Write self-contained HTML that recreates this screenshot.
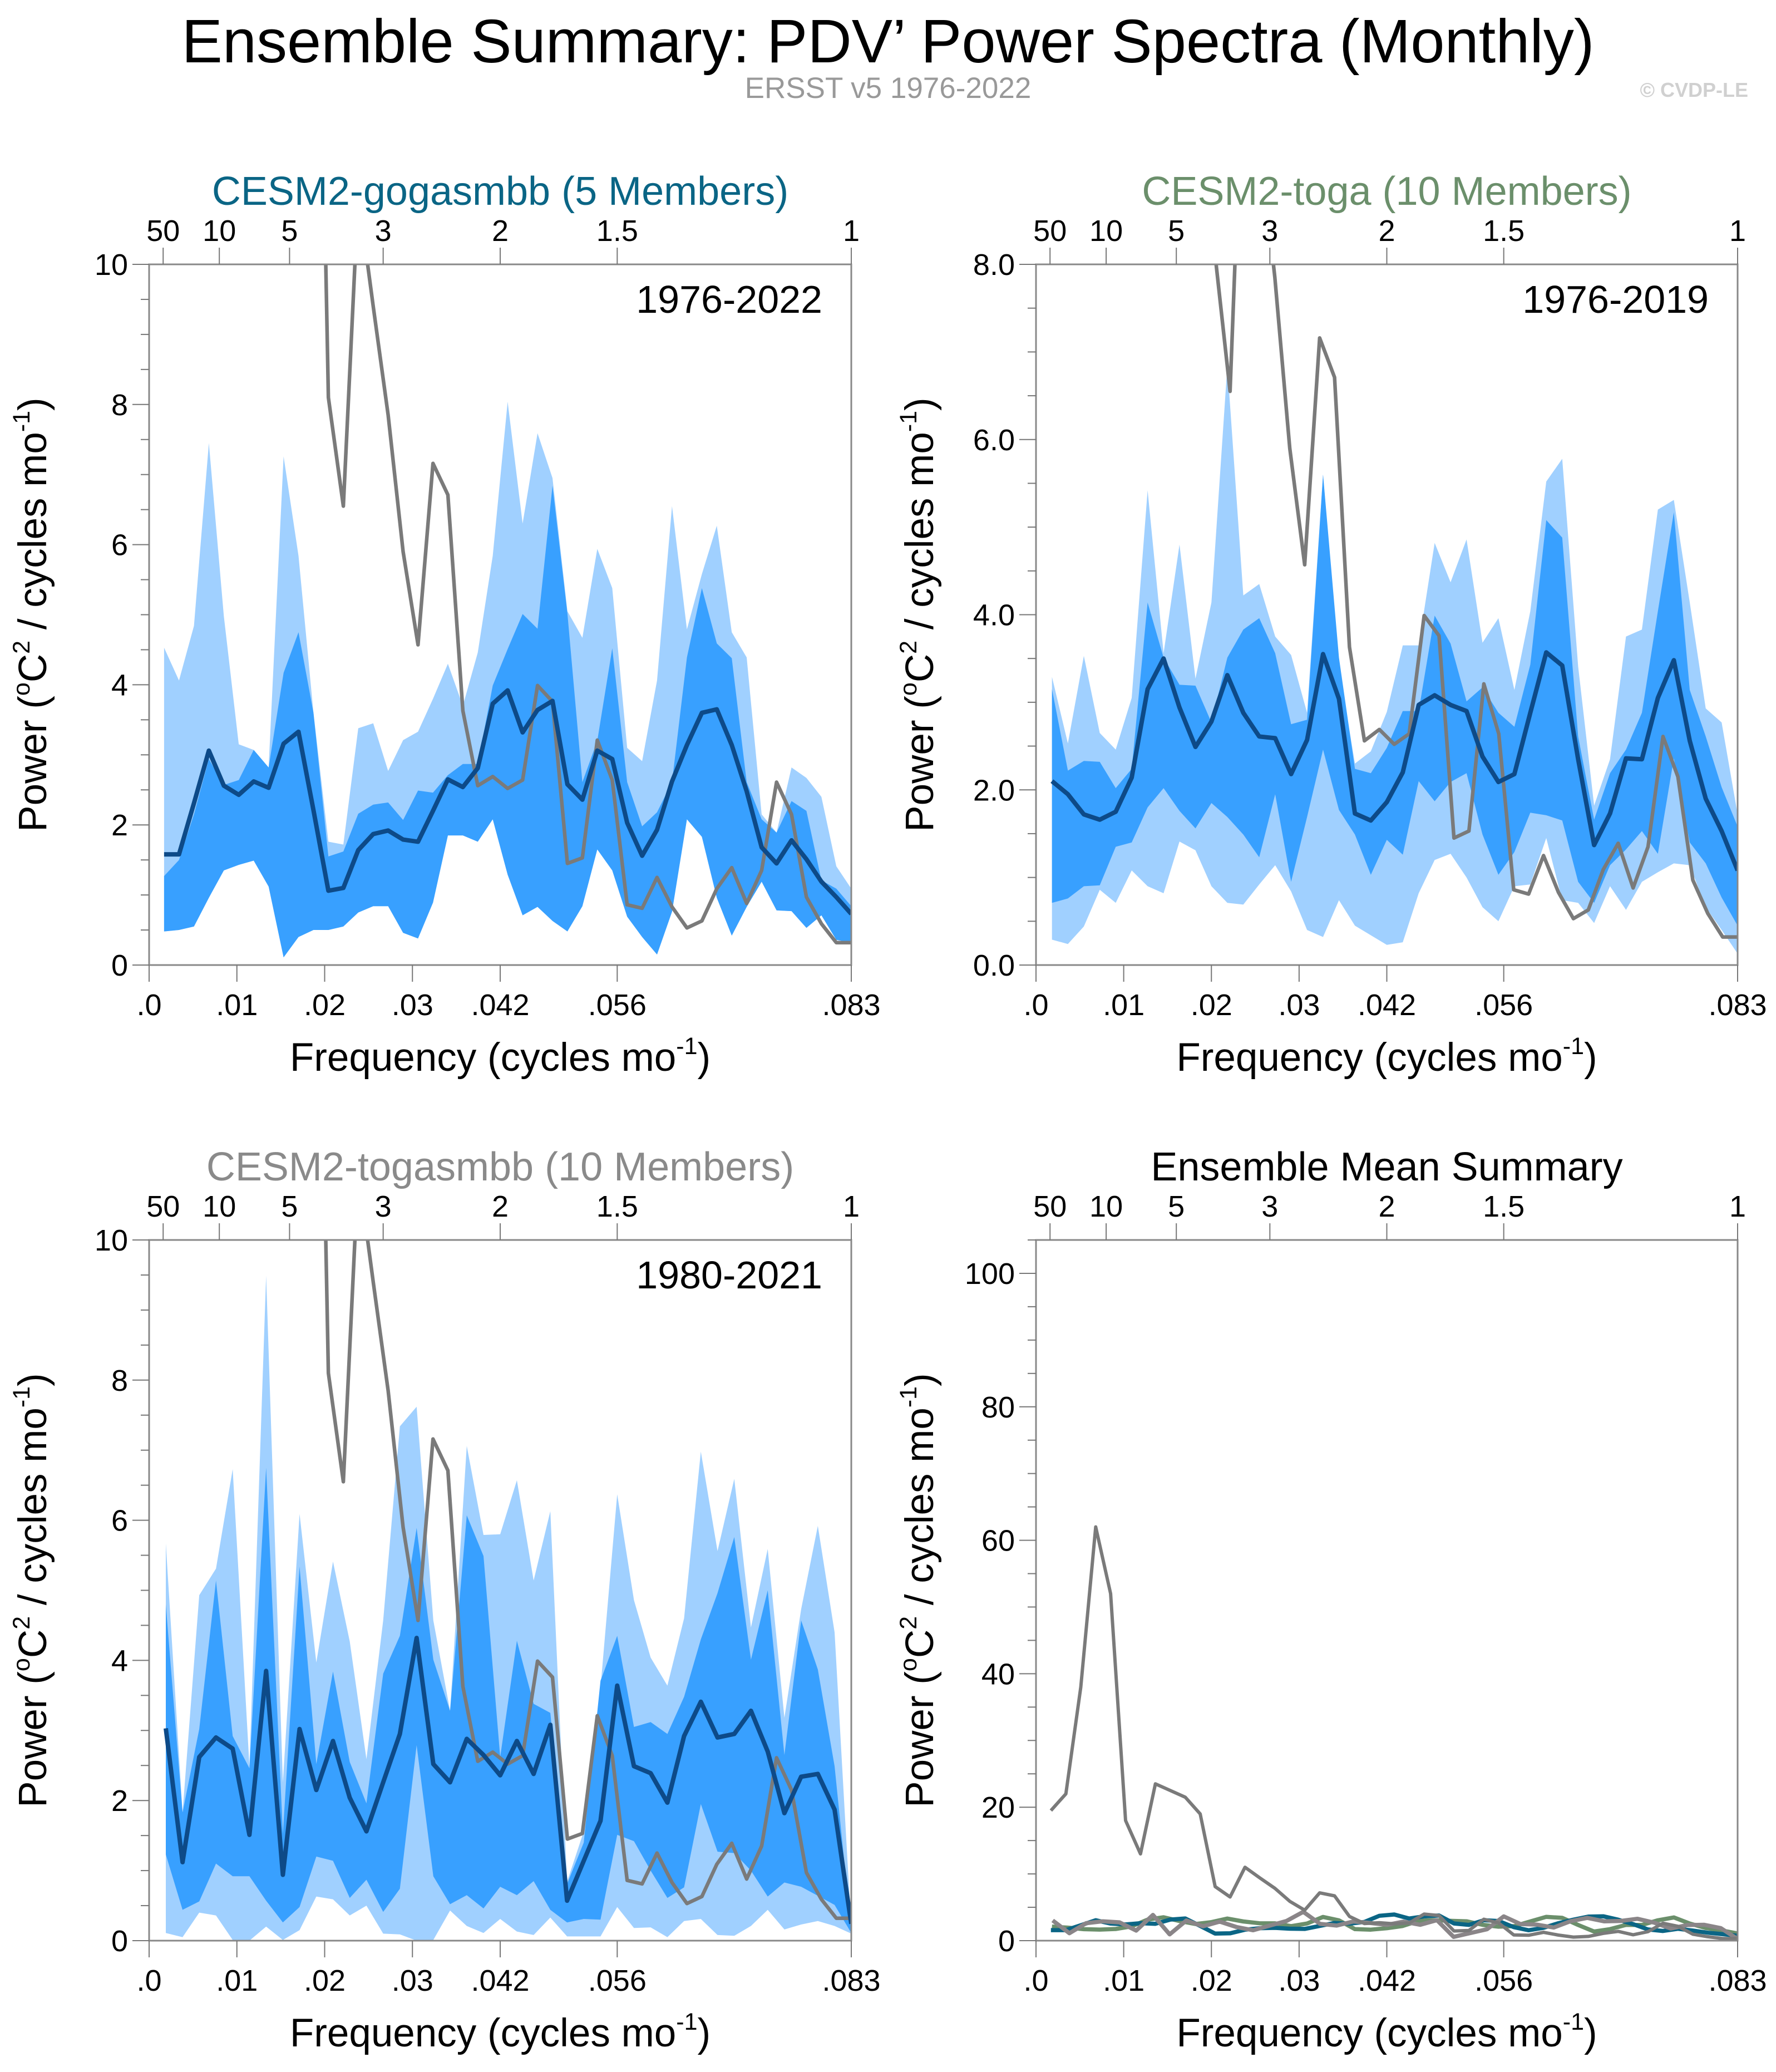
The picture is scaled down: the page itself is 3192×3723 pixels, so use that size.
<!DOCTYPE html>
<html><head><meta charset="utf-8">
<style>
html,body{margin:0;padding:0;background:#fff;}
svg{display:block;font-family:"Liberation Sans",Arial,sans-serif;}
</style></head>
<body>
<svg id="fig" width="3192" height="3723" viewBox="0 0 3192 3723" xmlns="http://www.w3.org/2000/svg">
<text x="1596" y="112" font-size="110" text-anchor="middle" fill="#000">Ensemble Summary: PDV’ Power Spectra (Monthly)</text>
<text x="1596" y="176" font-size="53" text-anchor="middle" fill="#999">ERSST v5 1976-2022</text>
<text x="3142" y="174" font-size="36" font-weight="bold" text-anchor="end" fill="#d0d0d0">© CVDP-LE</text>
</svg>
<script>
// Observed (ERSST) spectrum, freq k/564
const obsVals=[19.5,22,38,62,52,18,13,23.5,22.5,21.5,19,8.1,6.55,11,9.4,7.85,5.9,4.57,7.16,6.71,3.63,2.56,2.69,2.52,2.64,3.99,3.76,1.45,1.53,3.21,2.64,0.86,0.81,1.25,0.83,0.53,0.63,1.09,1.39,0.88,1.35,2.61,2.15,0.97,0.59,0.32,0.32];
// Panel 1: CESM2-gogasmbb (47 yrs)
const p1Mean=[1.58,1.58,2.31,3.06,2.56,2.43,2.62,2.53,3.16,3.33,2.21,1.06,1.10,1.64,1.87,1.92,1.79,1.76,2.20,2.65,2.54,2.81,3.73,3.92,3.32,3.64,3.77,2.58,2.36,3.06,2.94,2.03,1.56,1.93,2.62,3.14,3.60,3.65,3.14,2.48,1.68,1.45,1.78,1.51,1.19,0.97,0.73];
const p1LightHi=[4.53,4.06,4.84,7.45,4.98,3.15,3.07,2.82,7.26,5.84,3.60,1.76,1.72,3.38,3.45,2.77,3.21,3.33,3.80,4.30,3.70,4.46,5.84,8.04,6.30,7.59,6.95,5.05,4.67,5.94,5.38,3.10,2.91,4.06,6.55,4.79,5.58,6.27,4.75,4.39,2.15,1.89,2.82,2.67,2.40,1.41,1.09];
const p1DarkHi=[1.27,1.50,2.15,2.94,2.57,2.64,3.07,2.82,4.17,4.75,3.60,1.55,1.62,2.16,2.29,2.32,2.07,2.49,2.46,2.71,2.87,2.87,3.99,4.51,5.01,4.80,6.84,5.02,2.61,3.20,4.52,2.61,1.98,2.18,2.61,4.39,5.38,4.59,4.38,2.61,2.08,1.89,2.34,2.20,1.21,1.09,0.84];
const p1DarkLo=[0.48,0.50,0.55,0.96,1.35,1.43,1.49,1.12,0.11,0.40,0.50,0.50,0.55,0.75,0.84,0.84,0.46,0.38,0.89,1.85,1.85,1.76,2.08,1.29,0.71,0.83,0.63,0.48,0.84,1.65,1.35,0.69,0.40,0.15,0.76,2.08,1.83,0.96,0.42,0.83,1.19,0.78,0.77,0.53,0.71,0.36,0.32];
const p1LightLo=[0.48,0.50,0.55,0.96,1.35,1.43,1.49,1.12,0.11,0.40,0.50,0.50,0.55,0.75,0.84,0.84,0.46,0.38,0.89,1.85,1.85,1.76,2.08,1.29,0.71,0.83,0.63,0.48,0.84,1.65,1.35,0.69,0.40,0.15,0.76,2.08,1.83,0.96,0.42,0.83,1.19,0.78,0.77,0.53,0.71,0.36,0.32];
// Panel 2: CESM2-toga (44 yrs)
const p2Mean=[2.10,1.95,1.72,1.66,1.75,2.14,3.15,3.50,2.94,2.49,2.78,3.31,2.88,2.61,2.59,2.18,2.57,3.55,3.04,1.73,1.65,1.86,2.20,2.97,3.08,2.97,2.90,2.38,2.09,2.18,2.88,3.57,3.42,2.35,1.37,1.73,2.36,2.35,3.05,3.48,2.56,1.90,1.53,1.08];
const p2LightHi=[3.29,2.53,3.53,2.65,2.46,3.05,5.42,3.56,4.80,3.27,4.14,6.84,4.22,4.35,3.75,3.54,2.88,5.60,3.41,2.30,2.44,2.89,3.65,3.65,4.82,4.37,4.86,3.68,3.96,3.14,4.04,5.52,5.78,3.41,1.82,2.35,3.75,3.83,5.20,5.31,4.14,2.93,2.77,1.72];
const p2DarkHi=[3.15,2.22,2.33,2.32,2.02,2.24,4.14,3.51,3.20,3.19,2.77,3.51,3.83,3.96,3.56,2.75,2.80,5.60,3.51,2.24,2.19,2.48,2.90,2.90,3.99,3.67,3.01,3.17,2.88,2.72,3.43,5.08,4.88,2.61,1.66,2.19,2.46,2.88,4.04,5.17,3.14,2.61,2.03,1.58];
const p2DarkLo=[0.71,0.76,0.90,0.91,1.35,1.40,1.80,2.02,1.76,1.56,1.85,1.69,1.49,1.23,1.95,0.95,1.69,2.46,1.77,1.49,1.03,1.43,1.26,2.10,1.87,2.09,2.19,1.49,1.03,1.29,1.74,1.71,1.65,0.95,0.71,1.14,1.32,1.53,1.27,2.36,1.40,1.16,0.77,0.45];
const p2LightLo=[0.29,0.24,0.44,0.86,0.71,1.08,0.90,0.82,1.41,1.31,0.90,0.71,0.69,0.92,1.14,0.84,0.40,0.32,0.74,0.45,0.34,0.23,0.26,0.82,1.20,1.27,1.00,0.66,0.50,0.90,0.92,1.45,0.74,0.71,0.48,0.90,0.63,0.95,1.06,1.16,1.14,0.66,0.40,0.13];
// Panel 3: CESM2-togasmbb (42 yrs)
const p3Mean=[3.03,1.12,2.62,2.90,2.74,1.51,3.85,0.94,3.02,2.15,2.85,2.04,1.56,2.26,2.95,4.32,2.52,2.26,2.88,2.65,2.36,2.85,2.38,3.08,0.57,1.14,1.71,3.64,2.49,2.39,1.97,2.92,3.41,2.90,2.95,3.28,2.70,1.82,2.34,2.38,1.87,0.24];
const p3LightHi=[5.67,1.83,4.93,5.31,6.73,2.49,9.49,2.26,6.09,3.97,5.41,4.27,2.59,4.57,7.34,7.62,4.57,3.28,7.06,5.79,5.80,6.57,5.14,6.13,0.84,1.56,3.61,6.37,4.86,4.04,3.64,4.60,6.98,5.56,6.59,4.47,5.59,3.18,4.73,5.92,4.40,0.18];
const p3DarkHi=[4.80,1.83,3.02,5.14,2.92,2.46,6.75,1.53,5.34,2.52,3.84,2.55,1.96,3.81,4.35,5.89,4.01,3.28,6.07,5.49,2.62,4.28,3.38,3.25,0.81,1.40,3.71,4.35,3.05,3.12,2.95,3.48,4.30,4.96,5.76,4.01,5.00,2.65,4.57,3.87,2.49,0.15];
const p3DarkLo=[1.23,0.44,0.56,1.10,0.92,0.92,0.57,0.26,0.48,1.20,1.14,0.61,0.87,0.41,0.74,2.79,0.92,0.52,0.65,0.46,0.77,0.65,0.85,0.44,0.26,0.31,0.30,1.51,1.42,1.00,0.61,0.76,1.95,1.27,1.25,1.00,0.63,0.83,0.77,0.64,0.51,0.11];
const p3LightLo=[0.11,0.05,0.40,0.36,0.01,0,0.20,0.01,0.15,0.63,0.59,0.36,0.50,0.10,0.09,0,0.01,0.43,0.21,0.11,0.31,0.13,0.08,0.33,0.06,0.06,0.06,0.48,0.18,0.19,0.05,0.28,0.31,0.08,0.07,0.21,0.44,0.16,0.23,0.28,0.21,0.10];
// Axis tick data
const xTickFreqs=[0,1/96,1/48,1/32,1/24,1/18,1/12];
const xTickLabels=[".0",".01",".02",".03",".042",".056",".083"];
const topPeriods=[50,10,5,3,2,1.5,1];
const topLabels=["50","10","5","3","2","1.5","1"];

const NS="http://www.w3.org/2000/svg";
const svg=document.getElementById('fig');
function mk(tag,attrs,parent){const e=document.createElementNS(NS,tag);for(const k in attrs)e.setAttribute(k,attrs[k]);(parent||svg).appendChild(e);return e;}

const FMAX=1/12;
function makePanel(cfg){
  const g=mk('g',{});
  
  
  const sx=f=>cfg.x0+(f/FMAX)*(cfg.x1-cfg.x0);
  const sy=v=>cfg.y1-(v/cfg.ymax)*(cfg.y1-cfg.y0);
  const clipId='clip-'+cfg.name;
  const cp=mk('clipPath',{id:clipId},g);
  mk('rect',{x:cfg.x0,y:cfg.y0,width:cfg.x1-cfg.x0,height:cfg.y1-cfg.y0},cp);
  const plot=mk('g',{'clip-path':'url(#'+clipId+')'},g);
  
  
  function band(hi,lo,col,nm){
    const n=hi.length;let d='';
    for(let i=0;i<n;i++){d+=(i?'L':'M')+sx((i+1)/(n*12)).toFixed(1)+','+sy(hi[i]).toFixed(1);}
    for(let i=n-1;i>=0;i--){d+='L'+sx((i+1)/(n*12)).toFixed(1)+','+sy(lo[i]).toFixed(1);}
    const p=mk('path',{d:d+'Z',fill:col,stroke:'none'},plot);
    
    
  }
  function line(vals,col,w,nm){
    const n=vals.length;let d='';
    for(let i=0;i<n;i++){d+=(i?'L':'M')+sx((i+1)/(n*12)).toFixed(1)+','+sy(vals[i]).toFixed(1);}
    const p=mk('path',{d:d,fill:'none',stroke:col,'stroke-width':w,'stroke-linejoin':'round'},plot);
    
    
  }
  if(cfg.lightHi){band(cfg.lightHi,cfg.lightLo,'#a0d0ff','band-10-90');band(cfg.darkHi,cfg.darkLo,'#38a0ff','band-25-75');}
  if(cfg.lines){cfg.lines.forEach(l=>line(l.vals,l.col,l.w,l.name));}
  if(cfg.mean){line(obsVals,'#7a7a7a',6.5,'obs-line');line(cfg.mean,'#0d4a88',8,'ensemble-mean-line');}
  const fr=mk('rect',{x:cfg.x0,y:cfg.y0,width:cfg.x1-cfg.x0,height:cfg.y1-cfg.y0,fill:'none',stroke:'#888','stroke-width':3},g);
  
  
  xTickFreqs.forEach((f,i)=>{
    const x=sx(f);
    mk('line',{x1:x,x2:x,y1:cfg.y1,y2:cfg.y1+30,stroke:'#777','stroke-width':2},g);
    const t=mk('text',{x:x,y:cfg.y1+90,'font-size':54,'text-anchor':'middle'},g);
    t.textContent=xTickLabels[i];
    
    
  });
  topPeriods.forEach((p,i)=>{
    const x=sx(1/(12*p));
    mk('line',{x1:x,x2:x,y1:cfg.y0,y2:cfg.y0-30,stroke:'#777','stroke-width':2},g);
    const t=mk('text',{x:x,y:cfg.y0-42,'font-size':54,'text-anchor':'middle'},g);
    t.textContent=topLabels[i];
    
    
  });
  for(let v=0;v<=cfg.ymax+1e-9;v+=cfg.minor){
    const y=sy(v);const major=Math.abs(v/cfg.major-Math.round(v/cfg.major))<1e-6;
    mk('line',{x1:cfg.x0,x2:cfg.x0-(major?30:15),y1:y,y2:y,stroke:'#777','stroke-width':2},g);
    if(major){
      const t=mk('text',{x:cfg.x0-38,y:y+19,'font-size':54,'text-anchor':'end'},g);
      t.textContent=cfg.fmt(v);
      
      
    }
  }
  const tt=mk('text',{x:(cfg.x0+cfg.x1)/2,y:cfg.y0-107,'font-size':72,'text-anchor':'middle',fill:cfg.titleCol},g);
  tt.textContent=cfg.title;
  
  
  if(cfg.period){
    const pt=mk('text',{x:cfg.x1-52,y:cfg.y0+87,'font-size':70,'text-anchor':'end'},g);
    pt.textContent=cfg.period;
    
    
  }
  const xt=mk('text',{x:(cfg.x0+cfg.x1)/2,y:cfg.y1+190,'font-size':71,'text-anchor':'middle'},g);
  xt.innerHTML='Frequency (cycles mo<tspan dy="-30" font-size="43">-1</tspan><tspan dy="30">)</tspan>';
  
  
  const cy=(cfg.y0+cfg.y1)/2, ax=cfg.x0-185;
  const yt=mk('text',{x:ax,y:cy,'font-size':71,'text-anchor':'middle',transform:'rotate(-90 '+ax+' '+cy+')'},g);
  yt.innerHTML='Power (<tspan dy="-30" font-size="43">o</tspan><tspan dy="30">C</tspan><tspan dy="-30" font-size="43">2</tspan><tspan dy="30"> / cycles mo</tspan><tspan dy="-30" font-size="43">-1</tspan><tspan dy="30">)</tspan>';
  
  
}
const int0=v=>String(Math.round(v)), dec1=v=>v.toFixed(1);
makePanel({name:'panel-gogasmbb',x0:268,x1:1530,y0:475,y1:1734,ymax:10,major:2,minor:0.5,fmt:int0,title:'CESM2-gogasmbb (5 Members)',titleCol:'#0a6585',period:'1976-2022',mean:p1Mean,lightHi:p1LightHi,lightLo:p1LightLo,darkHi:p1DarkHi,darkLo:p1DarkLo});
makePanel({name:'panel-toga',x0:1862,x1:3123,y0:475,y1:1734,ymax:8,major:2,minor:0.5,fmt:dec1,title:'CESM2-toga (10 Members)',titleCol:'#6b8f6b',period:'1976-2019',mean:p2Mean,lightHi:p2LightHi,lightLo:p2LightLo,darkHi:p2DarkHi,darkLo:p2DarkLo});
makePanel({name:'panel-togasmbb',x0:268,x1:1530,y0:2228,y1:3487,ymax:10,major:2,minor:0.5,fmt:int0,title:'CESM2-togasmbb (10 Members)',titleCol:'#8a8a8a',period:'1980-2021',mean:p3Mean,lightHi:p3LightHi,lightLo:p3LightLo,darkHi:p3DarkHi,darkLo:p3DarkLo});
makePanel({name:'panel-ensemble-mean-summary',x0:1862,x1:3123,y0:2228,y1:3487,ymax:105,major:20,minor:5,fmt:int0,title:'Ensemble Mean Summary',titleCol:'#000',
  lines:[{vals:p2Mean,col:'#6b8f6b',w:7.5,name:'toga-mean-line'},{vals:p1Mean,col:'#0a6585',w:7.5,name:'gogasmbb-mean-line'},{vals:p3Mean,col:'#8a8588',w:7.5,name:'togasmbb-mean-line'},{vals:obsVals,col:'#7a7a7a',w:6,name:'obs-line'}]});
</script>
</body></html>
